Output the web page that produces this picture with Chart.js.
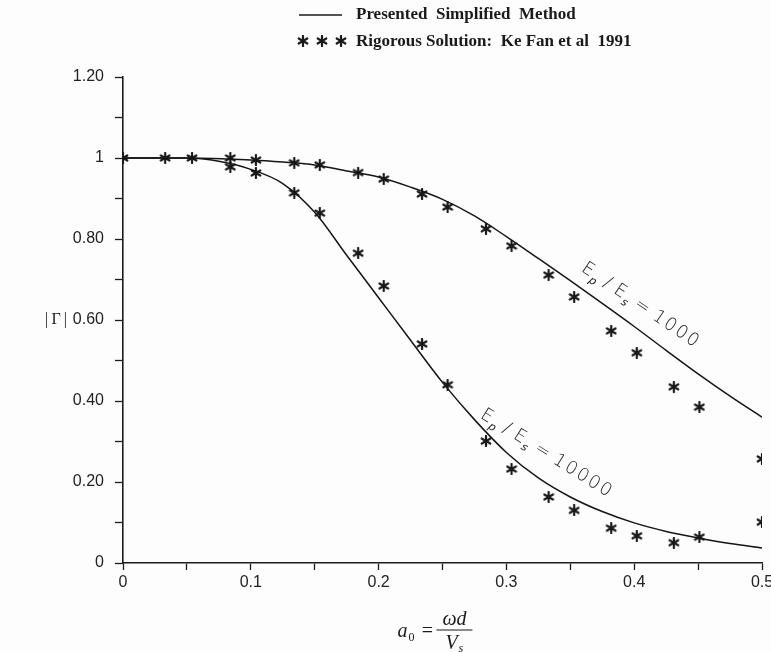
<!DOCTYPE html>
<html>
<head>
<meta charset="utf-8">
<script src="https://cdn.jsdelivr.net/npm/chart.js@4.4.1/dist/chart.umd.min.js"></script>
<style>
  html, body { margin: 0; padding: 0; background: #fdfdfd; }
  #wrap { width: 771px; height: 652px; position: relative; }
</style>
</head>
<body>
<div id="wrap"><canvas id="gamma"></canvas></div>
<script>
// simplified method, Ep/Es = 1000
const simpleX = [0, 0.05, 0.1, 0.125, 0.15, 0.175, 0.2, 0.225, 0.25, 0.275, 0.3, 0.325, 0.35, 0.375, 0.4, 0.425, 0.45, 0.475, 0.5];
const simple1000 = [1.0, 1.0, 0.995, 0.99, 0.983, 0.968, 0.953, 0.928, 0.898, 0.857, 0.806, 0.752, 0.697, 0.641, 0.584, 0.525, 0.467, 0.412, 0.36];

// simplified method, Ep/Es = 10000
const simple10000X = [0, 0.05, 0.075, 0.1, 0.125, 0.15, 0.175, 0.2, 0.225, 0.25, 0.275, 0.3, 0.325, 0.35, 0.375, 0.4, 0.425, 0.45, 0.475, 0.5];
const simple10000 = [1.0, 1.0, 0.992, 0.972, 0.937, 0.866, 0.76, 0.655, 0.55, 0.446, 0.354, 0.273, 0.21, 0.163, 0.127, 0.099, 0.078, 0.062, 0.048, 0.037];

// rigorous solution (Ke Fan et al 1991)
const rigor1000X = [0, 0.033, 0.054, 0.084, 0.104, 0.134, 0.154, 0.184, 0.204, 0.234, 0.254, 0.284, 0.304, 0.333, 0.353, 0.382, 0.402, 0.431, 0.451, 0.5];
const rigor1000 = [1.0, 1.0, 1.0, 1.0, 0.995, 0.988, 0.983, 0.964, 0.948, 0.911, 0.879, 0.825, 0.783, 0.711, 0.657, 0.573, 0.519, 0.435, 0.385, 0.257];
const rigor10000X = [0.084, 0.104, 0.134, 0.154, 0.184, 0.204, 0.234, 0.254, 0.284, 0.304, 0.333, 0.353, 0.382, 0.402, 0.431, 0.451, 0.5];
const rigor10000 = [0.978, 0.963, 0.914, 0.864, 0.765, 0.684, 0.541, 0.44, 0.301, 0.232, 0.163, 0.13, 0.086, 0.067, 0.05, 0.064, 0.101];

const xTickValues = [0, 0.1, 0.2, 0.3, 0.4, 0.5];
const xTickLabels = ['0', '0.1', '0.2', '0.3', '0.4', '0.5'];
const yTickValues = [0, 0.2, 0.4, 0.6, 0.8, 1.0, 1.2];
const yTickLabels = ['0', '0.20', '0.40', '0.60', '0.80', '1', '1.20'];

const legendLine = 'Presented  Simplified  Method';
const legendStars = 'Rigorous Solution:  Ke Fan et al  1991';

const pts = (xs, ys) => xs.map((x, i) => ({ x: x, y: ys[i] }));

function labelFor(value, values, labels) {
  const i = values.findIndex(v => Math.abs(v - value) < 1e-6);
  return i >= 0 ? labels[i] : '';
}

// six-armed asterisk used for the rigorous points
function makeStar(size, lw) {
  const c = document.createElement('canvas');
  c.width = size; c.height = size;
  const g = c.getContext('2d');
  const r = size / 2 - 1;
  g.strokeStyle = '#1a1a1a';
  g.lineWidth = lw;
  g.lineCap = 'round';
  for (let k = 0; k < 3; k++) {
    const a = Math.PI / 2 + k * Math.PI / 3;
    g.beginPath();
    g.moveTo(size / 2 + r * Math.cos(a), size / 2 + r * Math.sin(a));
    g.lineTo(size / 2 - r * Math.cos(a), size / 2 - r * Math.sin(a));
    g.stroke();
  }
  return c;
}
const star = makeStar(12, 2.2);

// Ep/Es = value, laid along a curve
function ratioLabel(ctx, x, y, angle, value) {
  ctx.save();
  ctx.translate(x, y);
  ctx.rotate(angle * Math.PI / 180);
  ctx.fillStyle = '#222';
  ctx.textBaseline = 'alphabetic';
  ctx.textAlign = 'left';
  let cx = 0;
  const big = '300 18px "DejaVu Sans"';
  const small = 'italic 300 11px "DejaVu Sans"';
  const parts = [['E', big, 0], ['p', small, 5], [' / ', big, 0], ['E', big, 0], ['s', small, 5], [' = ', big, 0]];
  parts.forEach(([t, f, dy]) => {
    ctx.font = f;
    ctx.fillText(t, cx, dy);
    cx += ctx.measureText(t).width + 1;
  });
  // digits are spread out a little
  ctx.font = big;
  for (const d of value) {
    ctx.fillText(d, cx, 0);
    cx += ctx.measureText(d).width + 2;
  }
  ctx.restore();
}

const extras = {
  id: 'extras',
  afterDraw(chart) {
    const ctx = chart.ctx;
    const xs = chart.scales.x, ys = chart.scales.y;
    ctx.save();

    // legend
    ctx.strokeStyle = '#1a1a1a';
    ctx.lineWidth = 1.6;
    ctx.beginPath();
    ctx.moveTo(299, 15); ctx.lineTo(342, 15);
    ctx.stroke();
    [303, 322, 341].forEach(px => ctx.drawImage(star, px - 6, 41 - 6));
    ctx.fillStyle = '#1a1a1a';
    ctx.font = 'bold 17px "Liberation Serif"';
    ctx.textBaseline = 'middle';
    ctx.textAlign = 'left';
    ctx.fillText(legendLine, 356, 15);
    ctx.fillText(legendStars, 356, 42);

    // y title |Γ|
    ctx.font = '16px "Liberation Serif"';
    ctx.textAlign = 'center';
    ctx.fillText('|\u2009\u0393\u2009|', 56, ys.getPixelForValue(0.6));

    // x title a0 = ωd / Vs
    const cx = xs.getPixelForValue(0.257);
    const by = 631;
    ctx.textBaseline = 'alphabetic';
    ctx.font = 'italic 20px "Liberation Serif"';
    ctx.textAlign = 'right';
    ctx.fillText('a', cx - 44, by + 6);
    ctx.font = '12px "Liberation Serif"';
    ctx.textAlign = 'left';
    ctx.fillText('0', cx - 43, by + 10);
    ctx.font = '20px "Liberation Serif"';
    ctx.textAlign = 'center';
    ctx.fillText('=', cx - 24, by + 6);
    ctx.font = 'italic 20px "Liberation Serif"';
    ctx.fillText('\u03c9d', cx + 3, by - 6);
    ctx.lineWidth = 1.2;
    ctx.beginPath();
    ctx.moveTo(cx - 15, by - 1); ctx.lineTo(cx + 21, by - 1);
    ctx.stroke();
    ctx.textAlign = 'left';
    ctx.fillText('V', cx - 6, by + 18);
    ctx.font = 'italic 12px "Liberation Serif"';
    ctx.fillText('s', cx + 7, by + 21);

    // curve annotations
    ratioLabel(ctx, xs.getPixelForValue(0.358), ys.getPixelForValue(0.722), 34, '1000');
    ratioLabel(ctx, xs.getPixelForValue(0.279), ys.getPixelForValue(0.36), 32, '10000');
    ctx.restore();
  }
};

const axisColor = '#1c1c1c';

new Chart(document.getElementById('gamma'), {
  type: 'scatter',
  data: {
    datasets: [
      {
        label: legendLine,
        data: pts(simpleX, simple1000),
        showLine: true,
        borderColor: '#151515',
        borderWidth: 1.5,
        pointRadius: 0,
        cubicInterpolationMode: 'monotone'
      },
      {
        label: legendLine,
        data: pts(simple10000X, simple10000),
        showLine: true,
        borderColor: '#151515',
        borderWidth: 1.5,
        pointRadius: 0,
        cubicInterpolationMode: 'monotone'
      },
      {
        label: legendStars,
        data: pts(rigor1000X, rigor1000),
        pointStyle: star,
        pointRadius: 6
      },
      {
        label: legendStars,
        data: pts(rigor10000X, rigor10000),
        pointStyle: star,
        pointRadius: 6
      }
    ]
  },
  options: {
    responsive: true,
    maintainAspectRatio: false,
    animation: false,
    layout: { padding: { top: 77, right: 9, left: 0, bottom: 0 } },
    plugins: {
      legend: { display: false },
      tooltip: { enabled: false }
    },
    scales: {
      x: {
        type: 'linear',
        min: 0,
        max: 0.5,
        afterFit(scale) {
          scale.height = 89;
          scale.paddingLeft = 0;
          scale.paddingRight = 0;
        },
        ticks: {
          stepSize: 0.05,
          autoSkip: false,
          maxRotation: 0,
          padding: 3,
          color: '#222',
          font: { family: 'Liberation Sans', size: 16 },
          callback: v => labelFor(v, xTickValues, xTickLabels)
        },
        grid: { drawOnChartArea: false, tickLength: 7, color: axisColor, tickWidth: 1.3 },
        border: { display: true, color: axisColor, width: 1.6 }
      },
      y: {
        min: 0,
        max: 1.2,
        afterFit(scale) {
          scale.width = 123;
          scale.paddingTop = 0;
          scale.paddingBottom = 0;
        },
        ticks: {
          stepSize: 0.1,
          autoSkip: false,
          padding: 11,
          color: '#222',
          font: { family: 'Liberation Sans', size: 16 },
          callback: v => labelFor(v, yTickValues, yTickLabels)
        },
        grid: { drawOnChartArea: false, tickLength: 8, color: axisColor, tickWidth: 1.3 },
        border: { display: true, color: axisColor, width: 1.6 }
      }
    }
  },
  plugins: [extras]
});
</script>
</body>
</html>
